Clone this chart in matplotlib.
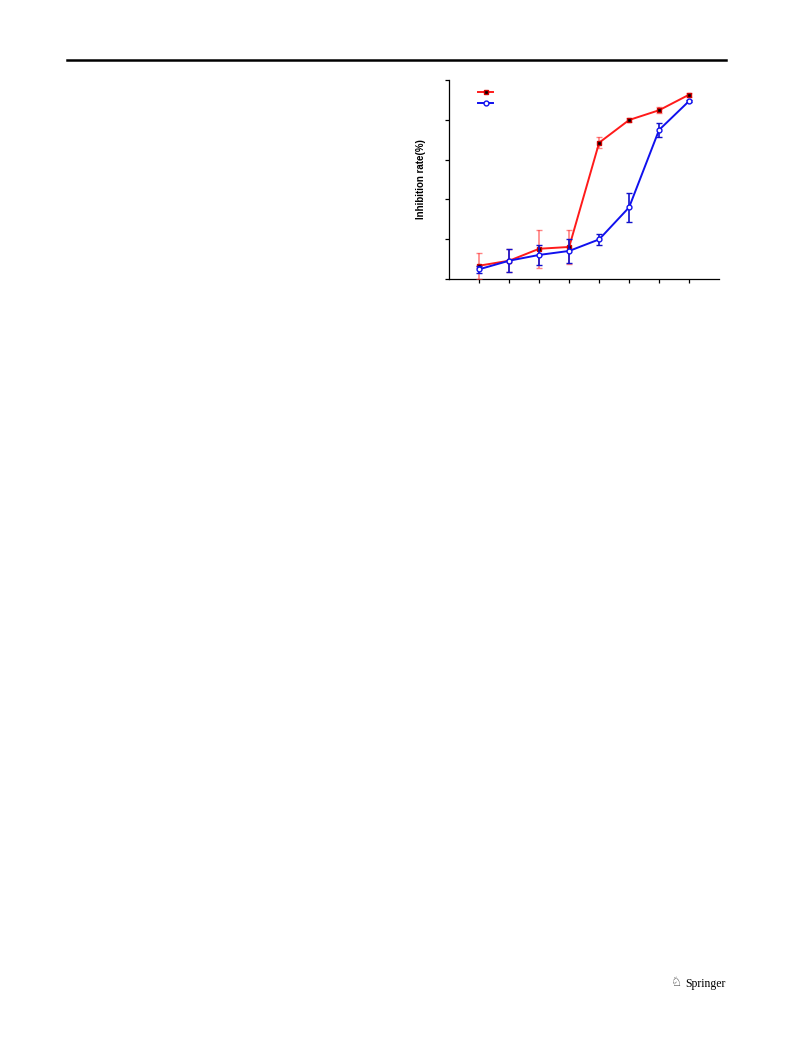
import matplotlib
matplotlib.use("Agg")
import matplotlib.pyplot as plt
from matplotlib.lines import Line2D

# data (x: dose level 1..8, y: inhibition rate %)
doses = [1, 2, 3, 4, 5, 6, 7, 8]
red_mean = [6.7, 9.2, 15.2, 16.1, 68.5, 79.9, 84.8, 92.6]
red_err = [6.6, 5.8, 9.6, 8.4, 2.8, 1.0, 1.5, 1.0]
blue_mean = [4.9, 9.2, 12.1, 14.1, 19.9, 36.0, 74.9, 89.4]
blue_err = [1.7, 5.7, 5.2, 5.9, 2.7, 7.3, 3.5, 0.6]
y_ticks = [0, 20, 40, 60, 80, 100]


def main():
    fig = plt.figure(figsize=(7.93, 10.53), dpi=100)

    # page header rule and footer
    fig.add_artist(Line2D([67 / 793, 726 / 793], [1 - 60 / 1053, 1 - 60 / 1053],
                          color="black", linewidth=1.8))
    fig.text(726 / 793, 1 - 984 / 1053, "Springer", ha="right", va="center",
             fontsize=8.5, family="Liberation Serif")
    fig.text(682 / 793, 1 - 983 / 1053, "\u2658", ha="right", va="center",
             fontsize=9, family="DejaVu Sans", color="#333333")

    ax = fig.add_axes([449.3 / 793, 1 - 279 / 1053, 269.7 / 793, 199 / 1053])

    ax.errorbar(doses, red_mean, yerr=red_err, color="#ff1a1a", ecolor=(1, 0.2, 0.2, 0.6),
                elinewidth=1.2, capsize=2.5, linewidth=1.4, marker="s", markersize=2.5,
                markerfacecolor="black", markeredgecolor="#cc0000", zorder=3)
    ax.errorbar(doses, blue_mean, yerr=blue_err, color="#1010ee", ecolor="#1010cc",
                elinewidth=1.2, capsize=2.5, linewidth=1.4, marker="o", markersize=3.5,
                markerfacecolor="white", markeredgecolor="#1010ee", markeredgewidth=1,
                zorder=4)

    ax.set_xlim(0, 9)
    ax.set_ylim(0, 100)
    ax.set_xticks(doses)
    ax.set_yticks(y_ticks)
    ax.tick_params(labelbottom=False, labelleft=False, direction="out", length=3,
                   width=0.9)
    for side in ["top", "right"]:
        ax.spines[side].set_visible(False)
    for side in ["left", "bottom"]:
        ax.spines[side].set_linewidth(0.9)

    ax.set_ylabel("Inhibition rate(%)", fontsize=7, fontweight="bold",
                  family="Liberation Sans", labelpad=14)

    handles = [
        Line2D([], [], color="#ff1a1a", linewidth=1.4, marker="s", markersize=2.5,
               markerfacecolor="black", markeredgecolor="#cc0000"),
        Line2D([], [], color="#1010ee", linewidth=1.4, marker="o", markersize=3.5,
               markerfacecolor="white", markeredgecolor="#1010ee"),
    ]
    ax.legend(handles, [" ", " "], loc="upper left", bbox_to_anchor=(0.08, 1.0),
              frameon=False, handlelength=1.8, fontsize=6, labelspacing=0.3)

    fig.savefig("out.png", dpi=100)


if __name__ == "__main__":
    main()
